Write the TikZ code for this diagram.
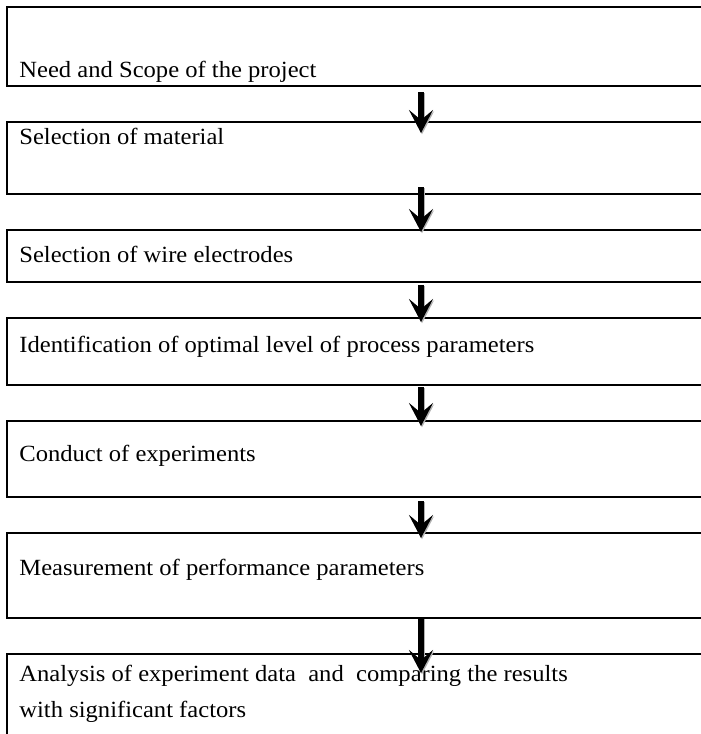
\documentclass[tikz,border=0pt]{standalone}
\usepackage{fontspec}
\setmainfont{Liberation Serif}[FakeStretch=1.06]
\usetikzlibrary{arrows.meta,positioning}

\begin{document}
\begin{tikzpicture}[
        node distance=18pt,
        bloco/.style={draw,line width=1.3pt,minimum width=414pt,inner sep=0pt,outer sep=0pt},
        texto/.style={anchor=base west,inner sep=0pt,align=left,
                      font=\fontsize{11.6}{18}\selectfont},
        seta/.style={-{Stealth[length=11.5pt,width=12pt,inset=5pt]},line width=2.6pt,
                     preaction={draw=black!30,line width=2.6pt,
                                -{Stealth[length=11.5pt,width=12pt,inset=5pt]},
                                transform canvas={shift={(0.5pt,-0.7pt)}}}}]
      \useasboundingbox (0,0) rectangle (350.5pt,-367pt);
      % caixas das etapas
      \node[bloco,minimum height=39.5pt,anchor=north west] (a) at (3.5pt,-3.5pt) {};
      \node[bloco,minimum height=36pt,below=of a] (b) {};
      \node[bloco,minimum height=26pt,below=of b] (c) {};
      \node[bloco,minimum height=33.5pt,below=of c] (d) {};
      \node[bloco,minimum height=38pt,below=of d] (e) {};
      \node[bloco,minimum height=42.5pt,below=of e] (f) {};
      \node[bloco,minimum height=60pt,below=of f] (g) {};
      % textos (base da ultima linha)
      \node[texto] (ta) at ([shift={(6pt,-35pt)}]a.north west) {Need and Scope of the project};
      \node[texto] (tb) at ([shift={(6pt,-11pt)}]b.north west) {Selection of material};
      \node[texto] (tc) at ([shift={(6pt,-16pt)}]c.north west) {Selection of wire electrodes};
      \node[texto] (td) at ([shift={(6pt,-17pt)}]d.north west) {Identification of optimal level of process parameters};
      \node[texto] (te) at ([shift={(6pt,-20pt)}]e.north west) {Conduct of experiments};
      \node[texto] (tf) at ([shift={(6pt,-21pt)}]f.north west) {Measurement of performance parameters};
      \node[texto] (tg) at ([shift={(6pt,-31.5pt)}]g.north west) {Analysis of experiment data\ \ and\ \ comparing the results\\with significant factors};
      % setas
      \draw[seta,shorten <=3pt,shorten >=-5.5pt] (a.south) -- (b.north);
      \draw[seta,shorten <=-3.5pt,shorten >=-1pt] (b.south) -- (c.north);
      \draw[seta,shorten <=1.5pt,shorten >=-2pt] (c.south) -- (d.north);
      \draw[seta,shorten <=1pt,shorten >=-2.5pt] (d.south) -- (e.north);
      \draw[seta,shorten <=2pt,shorten >=-2.5pt] (e.south) -- (f.north);
      \draw[seta,shorten >=-9.5pt] (f.south) -- (g.north);
    \end{tikzpicture}
\end{document}
